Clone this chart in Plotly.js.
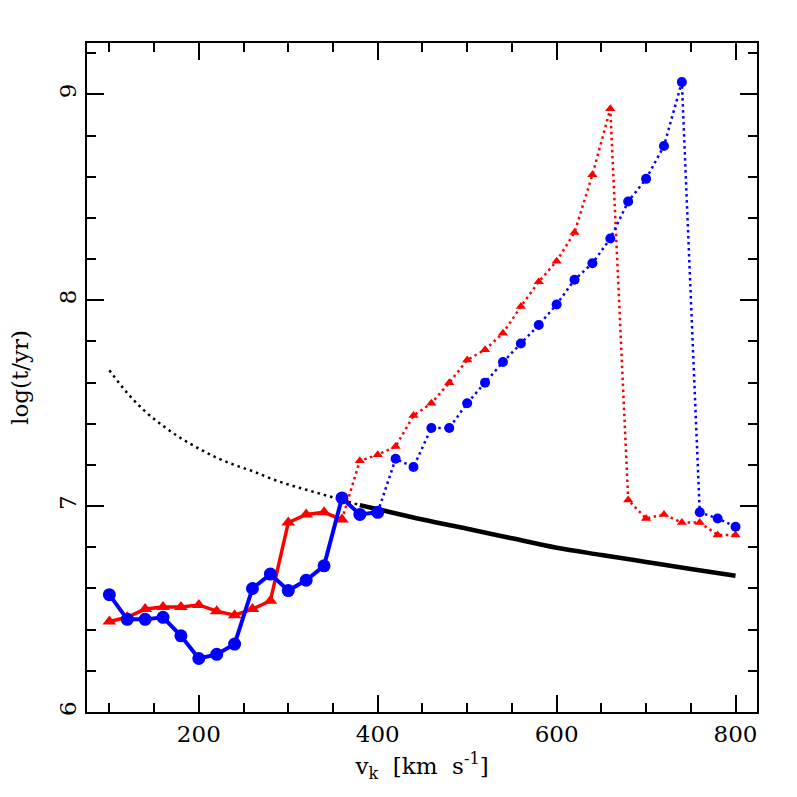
<!DOCTYPE html>
<html>
<head>
<meta charset="utf-8">
<script src="https://cdn.plot.ly/plotly-3.0.1.min.js"></script>
<style>html,body{margin:0;padding:0;background:#fff;} #myDiv{width:797px;height:797px;}</style>
</head>
<body>
<div id="myDiv"></div>
<script>
// blue circles, solid part then dotted part
var blueSolidX = [100, 120, 140, 160, 180, 200, 220, 240, 260, 280, 300, 320, 340, 360, 380, 400];
var blueSolidY = [6.57, 6.45, 6.45, 6.46, 6.37, 6.26, 6.28, 6.33, 6.60, 6.67, 6.59, 6.64, 6.71, 7.04, 6.96, 6.97];
var blueDotX = [400, 420, 440, 460, 480, 500, 520, 540, 560, 580, 600, 620, 640, 660, 680, 700, 720, 740, 760, 780, 800];
var blueDotY = [6.97, 7.23, 7.19, 7.38, 7.38, 7.50, 7.60, 7.70, 7.79, 7.88, 7.98, 8.10, 8.18, 8.30, 8.48, 8.59, 8.75, 9.06, 6.97, 6.94, 6.90];

// red triangles
var redSolidX = [100, 120, 140, 160, 180, 200, 220, 240, 260, 280, 300, 320, 340, 360];
var redSolidY = [6.44, 6.46, 6.50, 6.51, 6.51, 6.52, 6.49, 6.47, 6.50, 6.54, 6.92, 6.96, 6.97, 6.935];
var redDotX = [360, 380, 400, 420, 440, 460, 480, 500, 520, 540, 560, 580, 600, 620, 640, 660, 680, 700, 720, 740, 760, 780, 800];
var redDotY = [6.935, 7.22, 7.25, 7.29, 7.44, 7.50, 7.60, 7.71, 7.76, 7.84, 7.97, 8.09, 8.19, 8.33, 8.61, 8.93, 7.03, 6.94, 6.96, 6.92, 6.92, 6.86, 6.86];

// black reference curve
var blackDotX = [100, 120, 140, 160, 180, 200, 220, 240, 260, 280, 300, 320, 340, 360, 380];
var blackDotY = [7.66, 7.55, 7.46, 7.39, 7.33, 7.28, 7.235, 7.20, 7.17, 7.135, 7.105, 7.08, 7.055, 7.03, 7.005];
var blackSolidX = [380, 400, 450, 500, 550, 600, 650, 700, 750, 800];
var blackSolidY = [7.005, 6.985, 6.935, 6.89, 6.844, 6.798, 6.763, 6.729, 6.695, 6.662];

var blue = 'rgb(0,0,255)';
var red = 'rgb(255,0,0)';

var data = [
  {x: blackDotX, y: blackDotY, mode: 'lines', line: {color: 'black', width: 2.5, dash: '2.5px,4px', shape: 'spline'}},
  {x: blackSolidX, y: blackSolidY, mode: 'lines', line: {color: 'black', width: 4.5, shape: 'spline'}},
  {x: redDotX, y: redDotY, mode: 'lines+markers', line: {color: red, width: 2.5, dash: '2.5px,3.5px'},
   marker: {symbol: 'triangle-up', size: 9, color: red}},
  {x: blueDotX, y: blueDotY, mode: 'lines+markers', line: {color: blue, width: 2.5, dash: '2.5px,3.5px'},
   marker: {symbol: 'circle', size: 10, color: blue}},
  {x: redSolidX, y: redSolidY, mode: 'lines+markers', line: {color: red, width: 3.5},
   marker: {symbol: 'triangle-up', size: 12, color: red}},
  {x: blueSolidX, y: blueSolidY, mode: 'lines+markers', line: {color: blue, width: 4},
   marker: {symbol: 'circle', size: 13, color: blue}}
];

var fnt = {family: 'DejaVu Serif, Liberation Serif, serif', size: 23, color: 'black'};
var tfnt = {family: 'DejaVu Serif, Liberation Serif, serif', size: 23, color: 'black'};

var layout = {
  width: 797,
  height: 797,
  showlegend: false,
  plot_bgcolor: 'white',
  paper_bgcolor: 'white',
  margin: {l: 87, r: 40, t: 43, b: 85},
  xaxis: {
    range: [75, 824],
    tickvals: [200, 400, 600, 800],
    ticks: 'inside',
    ticklen: 17,
    tickwidth: 2,
    tickcolor: 'black',
    minor: {dtick: 50, tick0: 0, ticks: 'inside', ticklen: 9, tickwidth: 2, tickcolor: 'black'},
    showline: true,
    linewidth: 2,
    linecolor: 'black',
    mirror: 'ticks',
    showgrid: false,
    zeroline: false,
    tickfont: fnt,
    title: {text: 'v<sub>k</sub>  [km  s<sup>-1</sup>]', font: tfnt, standoff: 12}
  },
  yaxis: {
    range: [6, 9.25],
    tickvals: [6, 7, 8, 9],
    tickangle: -90,
    ticks: 'inside',
    ticklen: 17,
    tickwidth: 2,
    tickcolor: 'black',
    minor: {dtick: 0.2, tick0: 6, ticks: 'inside', ticklen: 9, tickwidth: 2, tickcolor: 'black'},
    showline: true,
    linewidth: 2,
    linecolor: 'black',
    mirror: 'ticks',
    showgrid: false,
    zeroline: false,
    tickfont: fnt,
    title: {text: 'log(t/yr)', font: tfnt, standoff: 20}
  }
};

Plotly.newPlot('myDiv', data, layout, {displayModeBar: false, staticPlot: true});
</script>
</body>
</html>
